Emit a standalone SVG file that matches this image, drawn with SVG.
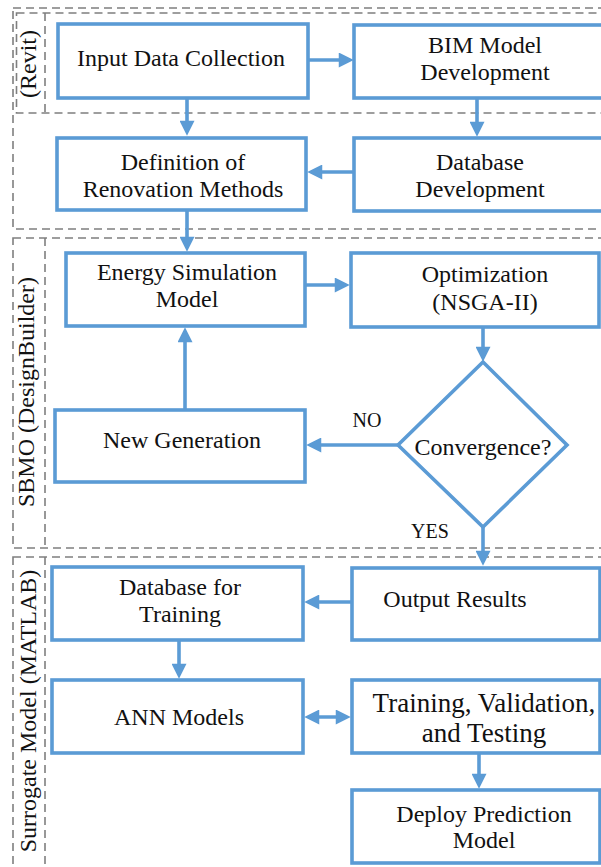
<svg xmlns="http://www.w3.org/2000/svg" width="601" height="867" viewBox="0 0 601 867">
  <style>
    .lane { fill: none; stroke: #7f7f7f; stroke-width: 1.6; stroke-dasharray: 8 5; }
    .box { fill: #ffffff; stroke: #5b9bd5; stroke-width: 3.6; }
    .edge { fill: none; stroke: #5b9bd5; stroke-width: 3.6; }
    text { font-family: "Liberation Serif", "Times New Roman", serif; font-size: 24px; fill: #111111; text-anchor: middle; }
    .small { font-size: 20px; }
    .big { font-size: 27px; }
  </style>
  <defs>
    <marker id="head" viewBox="0 0 16 16" refX="12" refY="8" markerWidth="16" markerHeight="15" markerUnits="userSpaceOnUse" orient="auto-start-reverse">
      <path d="M0,0 L16,8 L0,16 Z" fill="#5b9bd5"/>
    </marker>
  </defs>
  <rect width="601" height="867" fill="#ffffff"/>

  <!-- swimlanes -->
  <g id="lanes">
    <rect class="lane" x="13" y="8" width="610" height="221"/>
    <rect class="lane" x="16.5" y="13" width="610" height="100"/>
    <line class="lane" x1="45" y1="13" x2="45" y2="113"/>
    <text transform="translate(36,64) rotate(-90)">(Revit)</text>

    <rect class="lane" x="13" y="238" width="610" height="310"/>
    <line class="lane" x1="45" y1="238" x2="45" y2="548"/>
    <text transform="translate(34,392) rotate(-90)">SBMO (DesignBuilder)</text>

    <rect class="lane" x="13" y="557" width="610" height="330"/>
    <line class="lane" x1="45" y1="557" x2="45" y2="880"/>
    <text transform="translate(36,711) rotate(-90)">Surrogate Model (MATLAB)</text>
  </g>

  <!-- connectors -->
  <g id="connectors">
    <line class="edge" x1="308" y1="60" x2="350" y2="60" marker-end="url(#head)"/>
    <line class="edge" x1="187" y1="98" x2="187" y2="132" marker-end="url(#head)"/>
    <line class="edge" x1="477" y1="98" x2="477" y2="133" marker-end="url(#head)"/>
    <line class="edge" x1="354" y1="172" x2="311" y2="172" marker-end="url(#head)"/>
    <line class="edge" x1="187" y1="210" x2="187" y2="248" marker-end="url(#head)"/>
    <line class="edge" x1="305" y1="285" x2="346" y2="285" marker-end="url(#head)"/>
    <line class="edge" x1="483" y1="327" x2="483" y2="358" marker-end="url(#head)"/>
    <line class="edge" x1="398" y1="445" x2="310" y2="445" marker-end="url(#head)"/>
    <line class="edge" x1="185" y1="410" x2="185" y2="331" marker-end="url(#head)"/>
    <line class="edge" x1="483" y1="527" x2="483" y2="562" marker-end="url(#head)"/>
    <line class="edge" x1="352" y1="602" x2="308" y2="602" marker-end="url(#head)"/>
    <line class="edge" x1="179" y1="640" x2="179" y2="675" marker-end="url(#head)"/>
    <line class="edge" x1="308" y1="717" x2="347" y2="717" marker-start="url(#head)" marker-end="url(#head)"/>
    <line class="edge" x1="479" y1="753" x2="479" y2="785" marker-end="url(#head)"/>
    <text class="small" x="367" y="427">NO</text>
    <text class="small" x="430" y="538">YES</text>
  </g>

  <!-- nodes -->
  <g id="input-data">
    <rect class="box" x="58" y="24" width="250" height="74"/>
    <text x="181" y="66">Input Data Collection</text>
  </g>
  <g id="bim-model">
    <rect class="box" x="354" y="25" width="252" height="73"/>
    <text x="485" y="53">BIM Model</text>
    <text x="485" y="80">Development</text>
  </g>
  <g id="renovation-methods">
    <rect class="box" x="57" y="138" width="249" height="72"/>
    <text x="183" y="170">Definition of</text>
    <text x="183" y="197">Renovation Methods</text>
  </g>
  <g id="database">
    <rect class="box" x="354" y="138" width="252" height="73"/>
    <text x="480" y="170">Database</text>
    <text x="480" y="197">Development</text>
  </g>
  <g id="energy-sim">
    <rect class="box" x="66" y="253" width="239" height="73"/>
    <text x="187" y="280">Energy Simulation</text>
    <text x="187" y="307">Model</text>
  </g>
  <g id="optimization">
    <rect class="box" x="351" y="253" width="248" height="74"/>
    <text x="485" y="282">Optimization</text>
    <text x="485" y="310">(NSGA-II)</text>
  </g>
  <g id="convergence">
    <polygon class="box" points="483,362 567,445 483,527 398,445"/>
    <text x="483" y="455">Convergence?</text>
  </g>
  <g id="new-generation">
    <rect class="box" x="55" y="410" width="250" height="72"/>
    <text x="182" y="448">New Generation</text>
  </g>
  <g id="output-results">
    <rect class="box" x="352" y="568" width="248" height="72"/>
    <text x="455" y="607">Output Results</text>
  </g>
  <g id="training-db">
    <rect class="box" x="52" y="567" width="251" height="73"/>
    <text x="180" y="595">Database for</text>
    <text x="180" y="622">Training</text>
  </g>
  <g id="ann-models">
    <rect class="box" x="52" y="680" width="251" height="73"/>
    <text x="179" y="725">ANN Models</text>
  </g>
  <g id="training-validation">
    <rect class="box" x="352" y="680" width="248" height="73"/>
    <text class="big" x="484" y="712">Training, Validation,</text>
    <text class="big" x="484" y="742">and Testing</text>
  </g>
  <g id="deploy-model">
    <rect class="box" x="352" y="790" width="248" height="73"/>
    <text x="484" y="822">Deploy Prediction</text>
    <text x="484" y="848">Model</text>
  </g>
</svg>
